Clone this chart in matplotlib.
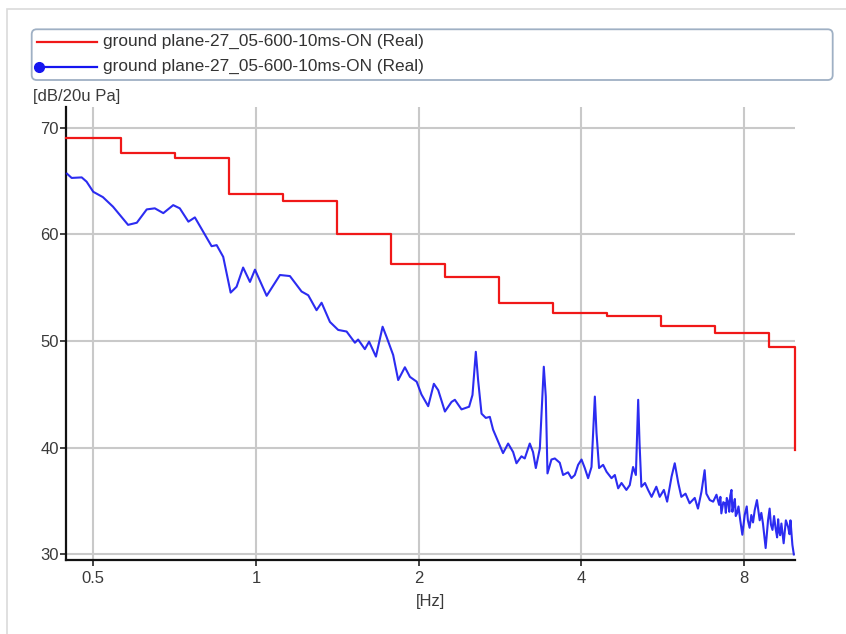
import matplotlib
matplotlib.use("Agg")
import matplotlib.pyplot as plt
from matplotlib.patches import FancyBboxPatch, Rectangle
from matplotlib.lines import Line2D
from matplotlib.ticker import FixedLocator, NullLocator

plt.rcParams['font.family'] = ['Liberation Sans', 'DejaVu Sans']

# ---------------- data ----------------
series_label = "ground plane-27_05-600-10ms-ON (Real)"
y_unit = "[dB/20u Pa]"
x_unit = "[Hz]"

# red: 1/3-octave band levels (band edges in Hz)
band_edges = [0.445, 0.562, 0.708, 0.891, 1.122, 1.413, 1.778, 2.239,
              2.818, 3.548, 4.467, 5.623, 7.079, 8.913, 9.93]
band_levels = [69.05, 67.65, 67.15, 63.75, 63.1, 60.0, 57.2, 56.0,
               53.6, 52.65, 52.4, 51.4, 50.75, 49.45]
band_end_level = 39.8

# blue: narrow-band spectrum
spec_freq = [0.447, 0.456, 0.476, 0.486, 0.500, 0.521, 0.544, 0.580, 0.602,
             0.628, 0.650, 0.674, 0.703, 0.723, 0.750, 0.771, 0.799, 0.828,
             0.846, 0.870, 0.898, 0.921, 0.947, 0.975, 0.996, 1.047, 1.108,
             1.156, 1.215, 1.250, 1.295, 1.323, 1.371, 1.420, 1.472, 1.525,
             1.546, 1.591, 1.620, 1.668, 1.716, 1.745, 1.795, 1.834, 1.887,
             1.928, 1.984, 2.025, 2.084, 2.135, 2.175, 2.238, 2.302, 2.335,
             2.402, 2.481, 2.517, 2.553, 2.578, 2.616, 2.664, 2.710, 2.748,
             2.807, 2.867, 2.930, 2.993, 3.036, 3.101, 3.145, 3.213, 3.258,
             3.297, 3.354, 3.411, 3.440, 3.465, 3.524, 3.575, 3.651, 3.703,
             3.782, 3.838, 3.893, 3.948, 4.006, 4.062, 4.120, 4.180, 4.240,
             4.270, 4.317, 4.392, 4.457, 4.552, 4.617, 4.683, 4.750, 4.850,
             4.920, 4.990, 5.050, 5.100, 5.130, 5.170, 5.250, 5.320, 5.400,
             5.510, 5.590, 5.690, 5.770, 5.880, 5.960, 6.050, 6.130, 6.240,
             6.350, 6.490, 6.580, 6.680, 6.770, 6.820, 6.920, 7.020, 7.120,
             7.200, 7.240, 7.270, 7.330, 7.380, 7.410, 7.440, 7.480, 7.520,
             7.550, 7.590, 7.620, 7.660, 7.700, 7.730, 7.770, 7.820, 7.880,
             7.950, 8.030, 8.100, 8.140, 8.200, 8.260, 8.320, 8.380, 8.460,
             8.560, 8.620, 8.680, 8.780, 8.870, 8.930, 8.980, 9.040, 9.100,
             9.160, 9.220, 9.260, 9.300, 9.340, 9.390, 9.480, 9.570, 9.660,
             9.720, 9.760, 9.840, 9.900]
spec_level = [65.7, 65.3, 65.35, 64.95, 64.0, 63.5, 62.6, 60.9, 61.1,
              62.35, 62.45, 62.0, 62.75, 62.45, 61.2, 61.6, 60.25, 58.9,
              59.0, 57.9, 54.55, 55.1, 56.9, 55.55, 56.7, 54.25, 56.2,
              56.1, 54.65, 54.3, 52.9, 53.6, 51.8, 51.05, 50.9, 49.85,
              50.15, 49.25, 49.95, 48.55, 51.35, 50.4, 48.7, 46.35, 47.55,
              46.65, 46.2, 45.0, 43.9, 46.0, 45.4, 43.4, 44.3, 44.5,
              43.6, 43.85, 44.95, 49.0, 46.35, 43.2, 42.8, 42.9, 41.7,
              40.6, 39.5, 40.4, 39.6, 38.55, 39.2, 39.0, 40.4, 39.6,
              38.1, 39.95, 47.6, 44.8, 37.6, 38.9, 39.0, 38.6, 37.45,
              37.7, 37.15, 37.45, 38.4, 38.9, 38.1, 37.15, 38.2, 44.8,
              41.4, 38.1, 38.4, 37.75, 37.15, 37.45, 36.2, 36.7, 36.05,
              36.5, 38.2, 37.45, 44.5, 40.4, 36.35, 36.7, 36.05, 35.4,
              36.35, 35.4, 36.05, 34.95, 37.3, 38.55, 36.7, 35.4, 35.7,
              34.8, 35.3, 34.3, 35.9, 37.9, 35.7, 35.1, 34.95, 35.6,
              34.65, 35.4, 33.85, 34.9, 34.8, 33.9, 35.3, 34.95, 34.0,
              35.5, 36.05, 34.0, 34.65, 35.2, 33.6, 33.85, 34.5, 33.2,
              31.85, 33.7, 34.5, 33.2, 32.5, 33.7, 33.0, 34.15, 35.1,
              33.2, 33.9, 32.9, 30.6, 33.2, 34.3, 32.8, 32.3, 33.6,
              32.45, 31.6, 33.3, 32.15, 31.8, 32.9, 31.05, 33.2, 32.6,
              31.9, 33.2, 30.9, 30.0]

x_ticks = [0.5, 1, 2, 4, 8]
x_tick_labels = ["0.5", "1", "2", "4", "8"]
y_ticks = [30, 40, 50, 60, 70]
y_tick_labels = ["30", "40", "50", "60", "70"]

# ---------------- figure ----------------
W, H = 846, 634
fig = plt.figure(figsize=(W / 100, H / 100), dpi=100)
fig.patch.set_facecolor("white")

def inx(px):
    return px / 100.0

def iny(py):
    return (H - py) / 100.0

tr = fig.dpi_scale_trans

# outer panel border
fig.patches.append(Rectangle((inx(7), iny(700)), inx(900), (700 - 9) / 100.0,
                             transform=tr, facecolor="none",
                             edgecolor="#dadada", lw=1.2))

ax = fig.add_axes([65.7 / W, 1 - 560 / H, (795 - 65.7) / W, (560 - 107) / H])
ax.set_xscale("log")
ax.set_xlim(0.4446, 9.95)
ax.set_ylim(29.48, 71.95)

ax.xaxis.set_major_locator(FixedLocator(x_ticks))
ax.xaxis.set_minor_locator(NullLocator())
ax.set_xticks(x_ticks)
ax.set_xticklabels(x_tick_labels)
ax.set_yticks(y_ticks)
ax.set_yticklabels(y_tick_labels)

ax.grid(True, color="#c9c9c9", lw=1.5, zorder=0)
ax.set_axisbelow(True)
for s in ["top", "right"]:
    ax.spines[s].set_visible(False)
for s in ["left", "bottom"]:
    ax.spines[s].set_color("#111111")
    ax.spines[s].set_linewidth(1.6)
ax.tick_params(axis="both", length=4, width=1.2, color="#222222",
               labelsize=12, labelcolor="#3a3a3a", pad=1)
ax.tick_params(axis="x", pad=4)

# red band levels (steps)
red_x = band_edges + [band_edges[-1]]
red_y = band_levels + [band_levels[-1], band_end_level]
ax.plot(red_x, red_y, drawstyle="steps-post", color="#f01818", lw=1.6,
        zorder=3, clip_on=False)

# blue spectrum
ax.plot(spec_freq, spec_level, color="#1515f0", lw=1.5, zorder=4,
        alpha=0.9, clip_on=False)

ax.set_xlabel(x_unit, fontsize=12, color="#3a3a3a", labelpad=6)

# y unit label
fig.text(33 / W, 1 - 97 / H, y_unit, fontsize=12,
         color="#3a3a3a", ha="left", va="center")

# legend box
leg = FancyBboxPatch((inx(31.7), iny(80)), inx(832.7 - 31.7), (80 - 29.3) / 100.0,
                     boxstyle="round,pad=0,rounding_size=0.05",
                     transform=tr, facecolor="white", edgecolor="#9fb0c4",
                     lw=1.3)
fig.patches.append(leg)
fig.lines.append(Line2D([inx(37), inx(97)], [iny(41.7), iny(41.7)],
                        transform=tr, color="#f01818", lw=1.6))
fig.lines.append(Line2D([inx(39), inx(97)], [iny(66.7), iny(66.7)],
                        transform=tr, color="#1515f0", lw=1.6))
fig.lines.append(Line2D([inx(39)], [iny(66.7)], transform=tr,
                        color="#1515f0", marker="o", markersize=7))
fig.text(103 / W, 1 - 41.7 / H, series_label, fontsize=12.4,
         color="#333333", ha="left", va="center")
fig.text(103 / W, 1 - 66.7 / H, series_label, fontsize=12.4,
         color="#333333", ha="left", va="center")

fig.savefig("out.png", dpi=100)
